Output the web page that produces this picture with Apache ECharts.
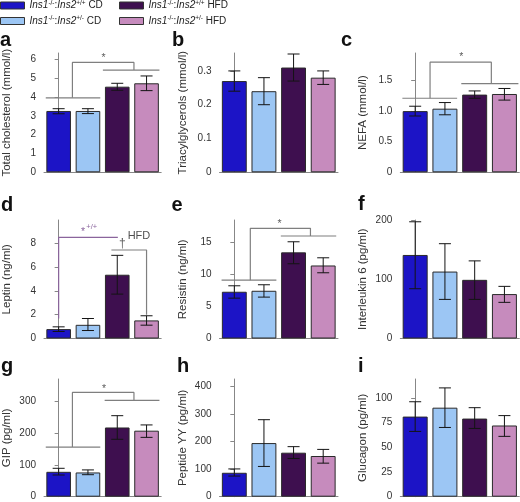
<!DOCTYPE html>
<html><head><meta charset="utf-8">
<script src="https://cdn.jsdelivr.net/npm/echarts@6/dist/echarts.min.js"></script>
<style>html,body{margin:0;padding:0;background:#fff}#c{width:520px;height:502px}</style>
</head><body><div id="c"></div>
<script>
const FONT = '"Liberation Sans", Arial, Helvetica, sans-serif';

// ---- groups / legend ----
const groups = ['Ins1-/-:Ins2+/+ CD', 'Ins1-/-:Ins2+/- CD', 'Ins1-/-:Ins2+/+ HFD', 'Ins1-/-:Ins2+/- HFD'];
const groupColors = ['#1c14c6', '#9cc6f4', '#3e0f4f', '#c68bbd'];
const categories = ['+/+ CD', '+/- CD', '+/+ HFD', '+/- HFD'];

// ---- panel a: total cholesterol ----
const cholMean = [3.26, 3.26, 4.55, 4.73];
const cholLow  = [3.11, 3.12, 4.36, 4.34];
const cholHigh = [3.38, 3.38, 4.73, 5.12];
const cholTicks = [0, 1, 2, 3, 4, 5, 6];
const cholBrackets = [
  [[-0.44, 3.96], [1.42, 3.96]],
  [[0.47, 3.96], [0.47, 5.84], [2.57, 5.84], [2.57, 5.43]],
  [[1.51, 5.43], [3.44, 5.43]]
];
const cholNotes = [[1.53, 6.09, '*']];

// ---- panel b: triacylglycerols ----
const tagMean = [0.27, 0.24, 0.31, 0.28];
const tagLow  = [0.24, 0.20, 0.27, 0.26];
const tagHigh = [0.30, 0.28, 0.35, 0.30];
const tagTicks = [0, 0.1, 0.2, 0.3];

// ---- panel c: NEFA ----
const nefaMean = [1.00, 1.04, 1.27, 1.28];
const nefaLow  = [0.92, 0.94, 1.21, 1.18];
const nefaHigh = [1.08, 1.14, 1.33, 1.37];
const nefaTicks = [0, 0.5, 1.0, 1.5];
const nefaBrackets = [
  [[-0.43, 1.21], [1.41, 1.21]],
  [[0.50, 1.21], [0.50, 1.80], [2.56, 1.80], [2.56, 1.45]],
  [[1.55, 1.45], [3.47, 1.45]]
];
const nefaNotes = [[1.55, 1.89, '*']];

// ---- panel d: leptin ----
const leptinMean = [0.79, 1.15, 5.36, 1.52];
const leptinLow  = [0.59, 0.67, 3.73, 1.12];
const leptinHigh = [0.98, 1.68, 6.99, 1.91];
const leptinTicks = [0, 2, 4, 6, 8];
const leptinPurpleBrackets = [[[0, 1.68], [0, 8.5], [2.02, 8.5]]];
const leptinBrackets = [[[1.8, 7.44], [3.0, 7.44], [3.0, 2.0]]];
const leptinNotes = [[0.83, 8.95, '*'], [1.13, 9.37, '+/+'], [2.17, 8.0, '†'], [2.74, 8.6, 'HFD']];

// ---- panel e: resistin ----
const resistinMean = [7.30, 7.45, 13.45, 11.40];
const resistinLow  = [6.30, 6.46, 11.67, 10.26];
const resistinHigh = [8.23, 8.39, 15.10, 12.60];
const resistinTicks = [0, 5, 10, 15];
const resistinBrackets = [
  [[-0.43, 9.11], [1.42, 9.11]],
  [[0.54, 9.11], [0.54, 17.2], [2.57, 17.2], [2.57, 16.0]],
  [[1.57, 16.0], [3.44, 16.0]]
];
const resistinNotes = [[1.53, 17.9, '*']];

// ---- panel f: interleukin 6 ----
const il6Mean = [141, 113, 99, 75];
const il6Low  = [84, 66, 66, 61];
const il6High = [197, 160, 131, 88];
const il6Ticks = [0, 100, 200];

// ---- panel g: GIP ----
const gipMean = [78, 76, 217, 207];
const gipLow  = [68, 69, 180, 186];
const gipHigh = [89, 84, 254, 225];
const gipTicks = [0, 100, 200, 300];
const gipBrackets = [
  [[-0.44, 155.7], [1.42, 155.7]],
  [[0.47, 155.7], [0.47, 327], [2.57, 327], [2.57, 302]],
  [[1.57, 302], [3.44, 302]]
];
const gipNotes = [[1.55, 338, '*']];

// ---- panel h: peptide YY ----
const pyyMean = [87, 195, 160, 148];
const pyyLow  = [75, 110, 139, 122];
const pyyHigh = [101, 280, 182, 172];
const pyyTicks = [0, 100, 200, 300, 400];

// ---- panel i: glucagon ----
const glucMean = [81, 90, 79, 72];
const glucLow  = [66, 70, 69, 61];
const glucHigh = [96, 110, 90, 82];
const glucTicks = [0, 25, 50, 75, 100];

const axisMax = [6.34, 0.353, 1.95, 9.96, 18.5, 200, 369, 428, 119];
const letters = ['a', 'b', 'c', 'd', 'e', 'f', 'g', 'h', 'i'];
const yNames = ['Total cholesterol (mmol/l)', 'Triacylglycerols (mmol/l)', 'NEFA (mmol/l)',
  'Leptin (ng/ml)', 'Resistin (ng/ml)', 'Interleukin 6 (pg/ml)',
  'GIP (pg/ml)', 'Peptide YY (pg/ml)', 'Glucagon (pg/ml)'];

const panels = [
  { mean: cholMean, low: cholLow, high: cholHigh, ticks: cholTicks, brackets: cholBrackets, notes: cholNotes },
  { mean: tagMean, low: tagLow, high: tagHigh, ticks: tagTicks, dec: 1 },
  { mean: nefaMean, low: nefaLow, high: nefaHigh, ticks: nefaTicks, brackets: nefaBrackets, notes: nefaNotes, dec: 1 },
  { mean: leptinMean, low: leptinLow, high: leptinHigh, ticks: leptinTicks, brackets: leptinBrackets, purple: leptinPurpleBrackets, notes: leptinNotes },
  { mean: resistinMean, low: resistinLow, high: resistinHigh, ticks: resistinTicks, brackets: resistinBrackets, notes: resistinNotes },
  { mean: il6Mean, low: il6Low, high: il6High, ticks: il6Ticks },
  { mean: gipMean, low: gipLow, high: gipHigh, ticks: gipTicks, brackets: gipBrackets, notes: gipNotes },
  { mean: pyyMean, low: pyyLow, high: pyyHigh, ticks: pyyTicks },
  { mean: glucMean, low: glucLow, high: glucHigh, ticks: glucTicks }
];

// ---- layout (pixels) ----
const gridLefts = [42.7, 219.5, 400.3];
const gridWidths = [118.5, 118.5, 119];
const rowTops = [53, 220, 379];
const rowHeights = [119.3, 118.5, 117.7];
const letterPos = [[0, 47], [172, 47], [341, 47], [1, 212], [171.5, 212], [358, 211], [1, 373], [177, 373], [358, 373]];

const AXIS_GRAY = '#878787';
const PURPLE = '#8a649c';

function renderErr(params, api) {
  const x = api.value(0), lo = api.value(1), hi = api.value(2);
  const a = api.coord([x, lo]), b = api.coord([x, hi]);
  const hw = 6;
  const st = { stroke: '#141414', lineWidth: 1 };
  return { type: 'group', children: [
    { type: 'line', shape: { x1: a[0], y1: a[1], x2: b[0], y2: b[1] }, style: st },
    { type: 'line', shape: { x1: a[0] - hw, y1: a[1], x2: a[0] + hw, y2: a[1] }, style: st },
    { type: 'line', shape: { x1: b[0] - hw, y1: b[1], x2: b[0] + hw, y2: b[1] }, style: st }
  ]};
}

function noteStyle(panelIdx, text) {
  const purpleNote = panelIdx === 3 && (text === '*' || text === '+/+');
  if (text === '+/+') return { fontSize: 7.5, color: '#6d3d84' };
  if (text === '†') return { fontSize: 12, color: '#333' };
  if (text === 'HFD') return { fontSize: 11, color: '#222' };
  return { fontSize: 10.5, color: purpleNote ? '#6d3d84' : '#333' };
}

const grid = [], xAxis = [], yAxis = [], series = [];
panels.forEach((p, i) => {
  const r = Math.floor(i / 3), c = i % 3;
  grid.push({ left: gridLefts[c], top: rowTops[r], width: gridWidths[c], height: rowHeights[r] });
  xAxis.push({ type: 'category', gridIndex: i, data: categories,
    axisLine: { show: true, onZero: false, lineStyle: { color: AXIS_GRAY, width: 1 } },
    axisTick: { show: false }, axisLabel: { show: false }, splitLine: { show: false } });
  xAxis.push({ type: 'value', gridIndex: i, min: -0.5, max: 3.5, show: false });
  yAxis.push({ type: 'value', gridIndex: i, min: 0, max: axisMax[i],
    interval: p.ticks[1] - p.ticks[0],
    name: yNames[i], nameLocation: 'middle', nameGap: 31,
    nameTextStyle: { fontSize: 11.5, color: '#333', fontFamily: FONT },
    axisLine: { show: true, lineStyle: { color: AXIS_GRAY, width: 1 } },
    axisTick: { show: true, length: 4, inside: false, lineStyle: { color: AXIS_GRAY }, customValues: p.ticks },
    axisLabel: { fontSize: 10, color: '#333', fontFamily: FONT, margin: 8, customValues: p.ticks,
      formatter: v => (p.dec ? (v === 0 ? '0' : v.toFixed(p.dec)) : String(v)) },
    splitLine: { show: false } });
  groups.forEach((g, k) => {
    series.push({ type: 'bar', name: g, xAxisIndex: 2 * i, yAxisIndex: i,
      barGap: '-100%', barCategoryGap: '16%', silent: true,
      data: p.mean.map((v, j) => (j === k ? v : '-')),
      itemStyle: { color: groupColors[k], borderColor: '#2a2a2a', borderWidth: 1 } });
  });
  series.push({ type: 'custom', xAxisIndex: 2 * i, yAxisIndex: i, z: 5, silent: true,
    encode: { x: 0, y: [1, 2] },
    data: p.mean.map((v, j) => [j, p.low[j], p.high[j]]), renderItem: renderErr });
  (p.brackets || []).forEach(b => series.push({ type: 'line', xAxisIndex: 2 * i + 1, yAxisIndex: i,
    data: b, symbol: 'none', silent: true, z: 4, lineStyle: { color: '#7f7f7f', width: 1.2 } }));
  (p.purple || []).forEach(b => series.push({ type: 'line', xAxisIndex: 2 * i + 1, yAxisIndex: i,
    data: b, symbol: 'none', silent: true, z: 4, lineStyle: { color: PURPLE, width: 1.2 } }));
  (p.notes || []).forEach(n => {
    const s = noteStyle(i, n[2]);
    series.push({ type: 'scatter', xAxisIndex: 2 * i + 1, yAxisIndex: i, silent: true, z: 6,
      symbolSize: 0, data: [{ value: [n[0], n[1]], name: n[2] }],
      label: { show: true, position: 'inside', formatter: '{b}', fontFamily: FONT,
        fontSize: s.fontSize, color: s.color } });
  });
});

function fmtLegend(name) {
  const m = name.match(/^Ins1(.+?):Ins2(.+?) (.+)$/);
  return '{i|Ins1}{s|' + m[1] + '}{n|:}{i|Ins2}{s|' + m[2] + '}{n| ' + m[3] + '}';
}
const legendRich = {
  i: { fontStyle: 'italic', fontSize: 10, fontFamily: FONT, color: '#222', lineHeight: 12 },
  n: { fontSize: 10, fontFamily: FONT, color: '#222', lineHeight: 12 },
  s: { fontSize: 6.5, fontFamily: FONT, color: '#222', lineHeight: 8, verticalAlign: 'top' }
};
function legendCfg(left, names) {
  return { left: left, top: -0.5, orient: 'vertical', padding: 0, itemGap: 4.5,
    itemWidth: 24, itemHeight: 7, icon: 'rect', selectedMode: false, data: names,
    formatter: fmtLegend, textStyle: { fontFamily: FONT, fontSize: 10, color: '#222', rich: legendRich },
    itemStyle: { borderColor: '#333', borderWidth: 1 } };
}

const graphic = letters.map((t, i) => ({ type: 'text', x: letterPos[i][0], y: letterPos[i][1] + 3.5,
  style: { text: t, font: 'bold 20px ' + FONT, fill: '#111', verticalAlign: 'bottom', align: 'left' } }));

const chart = echarts.init(document.getElementById('c'), null, { renderer: 'canvas' });
chart.setOption({
  animation: false,
  backgroundColor: '#fff',
  legend: [legendCfg(0, [groups[0], groups[1]]), legendCfg(119, [groups[2], groups[3]])],
  grid, xAxis, yAxis, series, graphic
});
</script></body></html>
